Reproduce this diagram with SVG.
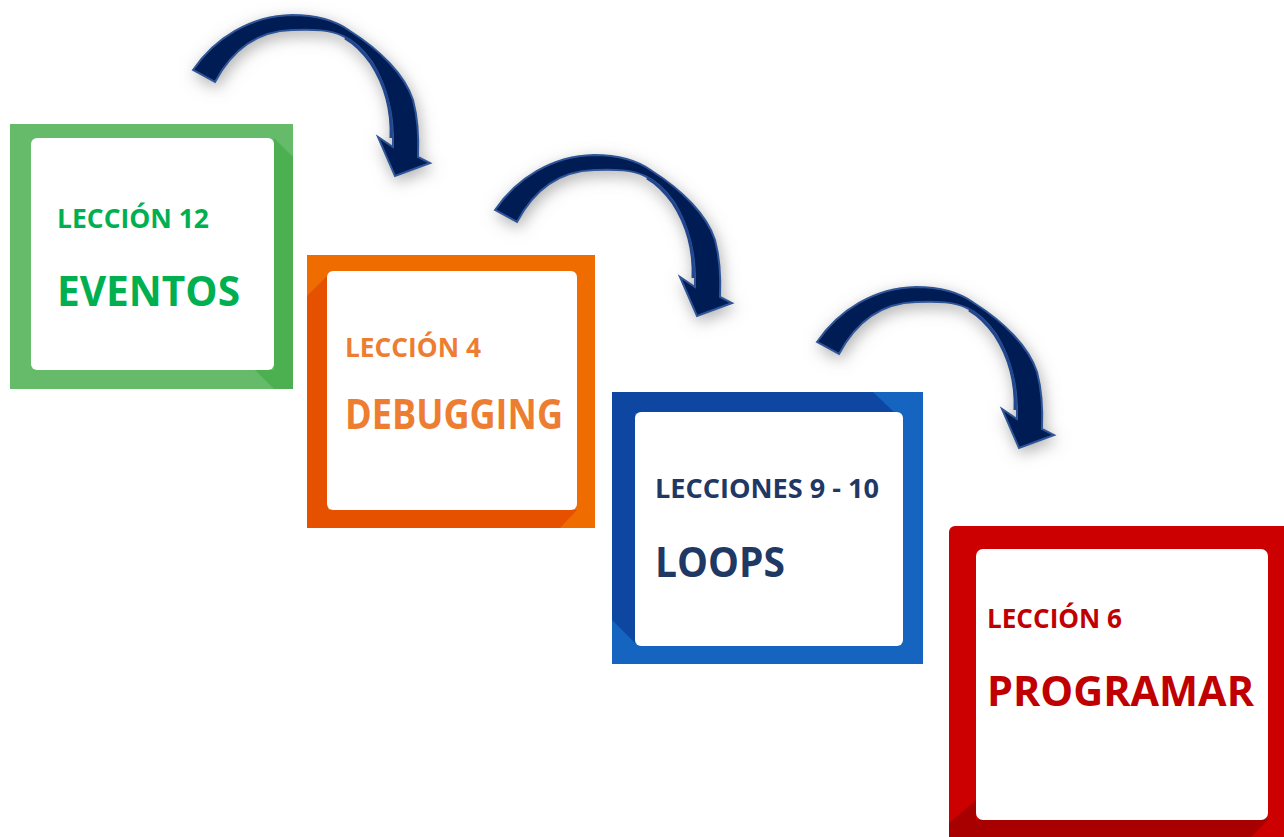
<svg xmlns="http://www.w3.org/2000/svg" xmlns:xlink="http://www.w3.org/1999/xlink" width="1284" height="837" viewBox="0 0 1284 837">
<style>
  .lbl{font-family:"Open Sans","Liberation Sans",sans-serif;font-weight:700;}
  .small{font-size:27px;}
  .big{font-size:41px;}
  .inner{fill:#ffffff;}
  .arrow{fill:#001C55;stroke:#2F5597;stroke-width:2;stroke-linejoin:miter;}
  .under{fill:none;stroke:#22478E;stroke-width:3;}
</style>
<defs>
  <filter id="shadow" x="-30%" y="-30%" width="160%" height="160%">
    <feGaussianBlur in="SourceAlpha" stdDeviation="8"/>
    <feOffset dx="2" dy="5" result="b"/>
    <feFlood flood-color="#7a7a7a" flood-opacity="0.6"/>
    <feComposite in2="b" operator="in"/>
    <feMerge><feMergeNode/><feMergeNode in="SourceGraphic"/></feMerge>
  </filter>
  <g id="curved-arrow">
    <path class="arrow" d="M193,70 C215,38 250,16 292,15 C315,15 335,20 350,31 C380,50 405,75 413,100 C417,115 419,135 418,157 L430,163 L395,176 L378,137 L393,147 C394,115 388,88 372,62 C362,48 352,40 343,36 C330,30 315,29 292,30 C258,31 232,50 215,82 Z"/>
    <path class="under" d="M391,138 C392,112 386,86 371,63 C361,49 352,42 345,38"/>
  </g>
</defs>

<g id="node-eventos">
  <rect x="10" y="124" width="283" height="265" fill="#66BB6A"/>
  <polygon points="274,138 293,157 293,389 274,389 255,370 274,370" fill="#4CAF50"/>
  <rect class="inner" x="31" y="138" width="243" height="232" rx="6"/>
  <text class="lbl small" x="57" y="228" fill="#00B050" textLength="152" lengthAdjust="spacingAndGlyphs">LECCIÓN 12</text>
  <text class="lbl big" x="57" y="306" fill="#00B050" textLength="183" lengthAdjust="spacingAndGlyphs">EVENTOS</text>
</g>

<g id="node-debugging">
  <rect x="307" y="255" width="288" height="273" fill="#EF6C00"/>
  <polygon points="307,296 328,275 328,510 577,510 560,528 307,528" fill="#E65100"/>
  <rect class="inner" x="327" y="271" width="250" height="239" rx="6"/>
  <text class="lbl small" x="345" y="357" fill="#ED7D31" textLength="136" lengthAdjust="spacingAndGlyphs">LECCIÓN 4</text>
  <text class="lbl big" x="345" y="429" fill="#ED7D31" textLength="218" lengthAdjust="spacingAndGlyphs">DEBUGGING</text>
</g>

<g id="node-loops">
  <rect x="612" y="392" width="311" height="272" fill="#1565C0"/>
  <polygon points="612,392 873,392 895,413 635,413 635,643 612,620" fill="#0D47A1"/>
  <rect class="inner" x="635" y="412" width="268" height="234" rx="6"/>
  <text class="lbl small" x="655" y="498" fill="#1F3864" textLength="224" lengthAdjust="spacingAndGlyphs">LECCIONES 9 - 10</text>
  <text class="lbl big" x="655" y="577" fill="#1F3864" textLength="130" lengthAdjust="spacingAndGlyphs">LOOPS</text>
</g>

<g id="node-programar">
  <rect x="949" y="526" width="345" height="320" rx="6" fill="#CC0000"/>
  <polygon points="949,823 976,800 976,820 1268,820 1251,837 949,837" fill="#A80000"/>
  <rect class="inner" x="976" y="549" width="292" height="271" rx="7"/>
  <text class="lbl small" x="987" y="628" fill="#C00000" textLength="135" lengthAdjust="spacingAndGlyphs">LECCIÓN 6</text>
  <text class="lbl big" x="987" y="706" fill="#C00000" textLength="267" lengthAdjust="spacingAndGlyphs">PROGRAMAR</text>
</g>

<g id="connectors" filter="url(#shadow)">
  <use xlink:href="#curved-arrow" href="#curved-arrow"/>
  <use xlink:href="#curved-arrow" href="#curved-arrow" transform="translate(302,140)"/>
  <use xlink:href="#curved-arrow" href="#curved-arrow" transform="translate(624,272)"/>
</g>
</svg>
